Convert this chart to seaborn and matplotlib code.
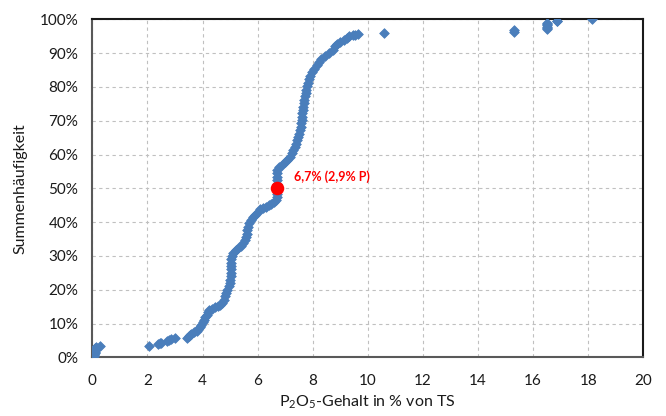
import matplotlib
matplotlib.use("Agg")
import matplotlib.pyplot as plt
import seaborn as sns
import pandas as pd
from matplotlib.ticker import FuncFormatter

# P2O5 content (% of dry matter) and cumulative frequency (%) along the sorted samples
p2o5 = [
    0.05, 0.06, 0.07, 0.08, 0.08, 0.09, 0.10, 0.10, 0.12, 0.28,
    2.07, 2.40, 2.45, 2.50, 2.72, 2.78, 2.85, 3.00,
    3.43, 3.50, 3.55, 3.60, 3.70, 3.80, 3.85, 3.90, 3.95, 4.00,
    4.05, 4.10, 4.15, 4.20, 4.25, 4.35, 4.45, 4.55, 4.65, 4.72,
    4.78, 4.82, 4.86, 4.90, 4.95, 4.98, 5.00, 5.02, 5.03, 5.04,
    5.04, 5.05, 5.05, 5.06, 5.10, 5.20, 5.30, 5.40, 5.48, 5.54,
    5.58, 5.60, 5.62, 5.64, 5.68, 5.75, 5.82, 5.90, 6.00, 6.10,
    6.20, 6.30, 6.40, 6.50, 6.60, 6.68, 6.70, 6.70, 6.70, 6.70,
    6.70, 6.70, 6.70, 6.70, 6.72, 6.78, 6.88, 6.98, 7.08, 7.16,
    7.24, 7.30, 7.36, 7.40, 7.44, 7.48, 7.51, 7.54, 7.56, 7.58,
    7.60, 7.61, 7.62, 7.64, 7.66, 7.68, 7.70, 7.72, 7.74, 7.77,
    7.80, 7.83, 7.86, 7.90, 7.96, 8.05, 8.15, 8.22, 8.30, 8.45,
    8.60, 8.72, 8.80, 8.90, 9.00, 9.15, 9.25, 9.33, 9.45, 9.55,
    9.66, 10.59, 15.30, 15.30, 16.50, 16.50, 16.50, 16.50, 16.50, 16.50,
    16.88, 16.88, 18.13,
]
summe = [
    0.3, 0.7, 1.0, 1.4, 1.7, 2.1, 2.4, 2.8, 3.1, 3.3,
    3.4, 3.8, 4.1, 4.3, 4.7, 5.0, 5.3, 5.6,
    5.8, 6.2, 6.6, 7.0, 7.4, 7.8, 8.3, 9.0, 9.6, 10.3,
    11.0, 11.8, 12.6, 13.4, 14.0, 14.4, 14.8, 15.2, 15.6, 16.2,
    17.0, 18.0, 19.0, 20.0, 21.0, 22.0, 23.0, 24.0, 25.0, 26.0,
    27.0, 28.0, 29.0, 30.0, 31.0, 31.6, 32.2, 33.0, 33.8, 34.7,
    35.6, 36.6, 37.6, 38.6, 39.6, 40.6, 41.4, 42.2, 43.0, 43.8,
    44.2, 44.6, 45.0, 45.4, 45.8, 46.4, 47.4, 48.4, 49.4, 50.4,
    51.4, 52.4, 53.4, 54.4, 55.4, 56.3, 57.0, 57.7, 58.5, 59.4,
    60.3, 61.2, 62.2, 63.2, 64.2, 65.2, 66.2, 67.2, 68.2, 69.2,
    70.2, 71.2, 72.2, 73.2, 74.2, 75.2, 76.2, 77.2, 78.2, 79.2,
    80.2, 81.2, 82.2, 83.2, 84.4, 85.4, 86.4, 87.4, 88.2, 89.0,
    90.0, 91.0, 92.0, 92.8, 93.4, 94.0, 94.6, 95.0, 95.3, 95.5,
    95.7, 95.9, 96.3, 96.8, 97.0, 97.4, 97.8, 98.2, 98.6, 99.0,
    99.4, 99.6, 100.0,
]

# Median marker and its label
median_x = 6.7
median_y = 50.0
median_label = "6,7% (2,9% P)"

x_ticks = [0, 2, 4, 6, 8, 10, 12, 14, 16, 18, 20]
y_ticks = [0, 10, 20, 30, 40, 50, 60, 70, 80, 90, 100]

sns.set_theme(style="white")
plt.rcParams["font.family"] = ["Lato", "DejaVu Sans"]
plt.rcParams["mathtext.fontset"] = "custom"
plt.rcParams["mathtext.rm"] = "Lato"
plt.rcParams["mathtext.it"] = "Lato:italic"
plt.rcParams["mathtext.bf"] = "Lato:bold"

df = pd.DataFrame({"x": p2o5, "y": summe})

fig = plt.figure(figsize=(6.66, 4.16), dpi=100)
ax = fig.add_axes([0.1386, 0.1411, 0.8273, 0.8125])

sns.scatterplot(data=df, x="x", y="y", ax=ax, marker="D", s=24,
                color="#4a7ebb", edgecolor="#4a7ebb", linewidth=0.6, zorder=3)
ax.scatter([median_x], [median_y], s=95, color="#ff0000", zorder=4, linewidths=0)
ax.text(median_x + 0.62, median_y + 3.3, median_label, color="#ff0000",
        fontsize=9, fontweight="bold", va="center", ha="left")

ax.set_xlim(0, 20)
ax.set_ylim(0, 100)
ax.set_xticks(x_ticks)
ax.set_yticks(y_ticks)
ax.yaxis.set_major_formatter(FuncFormatter(lambda v, p: f"{int(v)}%"))

ax.grid(True, color="#c0c0c0", linestyle=(0, (3, 3)), linewidth=0.8)
ax.set_axisbelow(True)

for side in ("left", "bottom"):
    ax.spines[side].set_color("#595959")
    ax.spines[side].set_linewidth(1.5)
for side in ("top", "right"):
    ax.spines[side].set_color("#1a1a1a")
    ax.spines[side].set_linewidth(1.5)

ax.tick_params(axis="both", which="major", direction="out", length=5,
               width=1, color="#595959", labelsize=11, labelcolor="#1a1a1a")
ax.tick_params(axis="x", pad=7)
ax.tick_params(axis="y", pad=5)

ax.set_xlabel("P$_2$O$_5$-Gehalt in % von TS", fontsize=11.5, color="#1a1a1a", labelpad=4)
ax.set_ylabel("Summenhäufigkeit", fontsize=11.5, color="#1a1a1a", labelpad=9)

fig.savefig("out.png", dpi=100)
